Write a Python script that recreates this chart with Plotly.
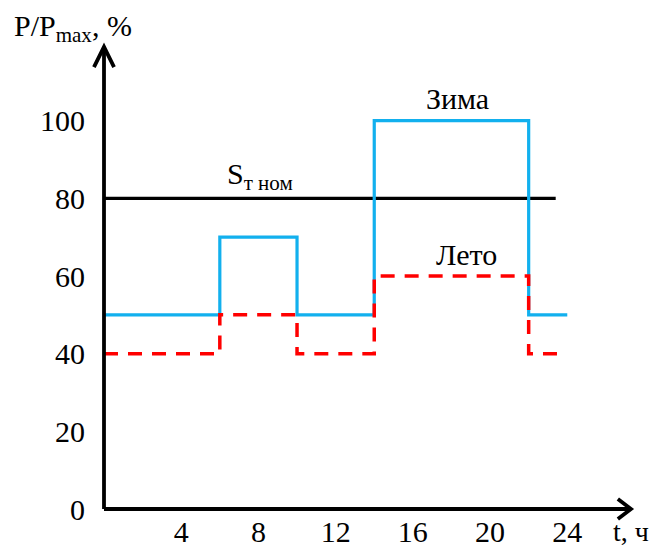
import plotly.graph_objects as go

# ---- data ----
hours_winter = [0, 6, 10, 14, 22, 24]
load_winter = [50, 70, 50, 100, 50, 50]
hours_summer = [0, 6, 10, 14, 22, 23.6]
load_summer = [40, 50, 40, 60, 40, 40]
hours_nom = [0, 23.4]
load_nom = [80, 80]
x_ticks = [4, 8, 12, 16, 20, 24]
y_ticks = [0, 20, 40, 60, 80, 100]

FONT = "Liberation Serif, Times New Roman, serif"
XR = [0, 28.13]
YR = [0, 120]

def px(h):
    return (h - XR[0]) / (XR[1] - XR[0])

def py(v):
    return (v - YR[0]) / (YR[1] - YR[0])

fig = go.Figure()
fig.add_trace(go.Scatter(x=hours_nom, y=load_nom, mode="lines",
                         line=dict(color="#000000", width=3.2), showlegend=False))
fig.add_trace(go.Scatter(x=hours_winter, y=load_winter, mode="lines", line_shape="hv",
                         line=dict(color="#12B0EE", width=3.2), showlegend=False))
fig.add_trace(go.Scatter(x=hours_summer, y=load_summer, mode="lines", line_shape="hv",
                         line=dict(color="#FF0000", width=3.5, dash="14px,10px"),
                         showlegend=False))

# axes with open arrow heads (decoration)
ax_col = "#000000"
ax_w = 3.8
x_tip = 27.3
y_tip = 119
shapes = [
    dict(type="line", xref="paper", yref="paper", x0=px(0), y0=py(0), x1=px(x_tip), y1=py(0),
         line=dict(color=ax_col, width=ax_w)),
    dict(type="line", xref="paper", yref="paper", x0=px(0), y0=py(0), x1=px(0), y1=py(y_tip),
         line=dict(color=ax_col, width=ax_w)),
    dict(type="path", xref="paper", yref="paper",
         path=f"M {px(-0.52)} {py(y_tip-5.2)} L {px(0)} {py(y_tip)} L {px(0.52)} {py(y_tip-5.2)}",
         line=dict(color=ax_col, width=ax_w)),
    dict(type="path", xref="paper", yref="paper",
         path=f"M {px(x_tip-0.68)} {py(2.6)} L {px(x_tip)} {py(0)} L {px(x_tip-0.68)} {py(-2.6)}",
         line=dict(color=ax_col, width=ax_w)),
]

def ann(text, h, v, xanchor="center", size=30):
    return dict(text=text, x=px(h), y=py(v), xref="paper", yref="paper", showarrow=False,
                xanchor=xanchor, yanchor="middle",
                font=dict(family=FONT, size=size, color="#000"))

annotations = [
    ann("Зима", 18.3, 105.8),
    ann("Лето", 18.8, 65.6),
    ann("S<sub>т ном</sub>", 8.1, 85.8),
    ann("P/P<sub>max</sub>, %", -1.6, 123.9),
    ann("t, ч", 28.35, -5.8, xanchor="right", size=28),
]

fig.update_layout(
    width=653, height=539, autosize=False,
    margin=dict(l=96, r=14, t=35, b=38, autoexpand=False),
    paper_bgcolor="white", plot_bgcolor="white",
    shapes=shapes, annotations=annotations,
    xaxis=dict(range=XR, tickvals=x_ticks, ticktext=[str(v) for v in x_ticks],
               showgrid=False, zeroline=False, showline=False, ticks="",
               ticklabelstandoff=2, automargin=False,
               tickfont=dict(family=FONT, size=30, color="#000")),
    yaxis=dict(range=YR, tickvals=y_ticks, ticktext=[str(v) for v in y_ticks],
               showgrid=False, zeroline=False, showline=False, ticks="",
               ticklabelstandoff=18, automargin=False,
               tickfont=dict(family=FONT, size=30, color="#000")),
)

fig.write_html("out.html")
